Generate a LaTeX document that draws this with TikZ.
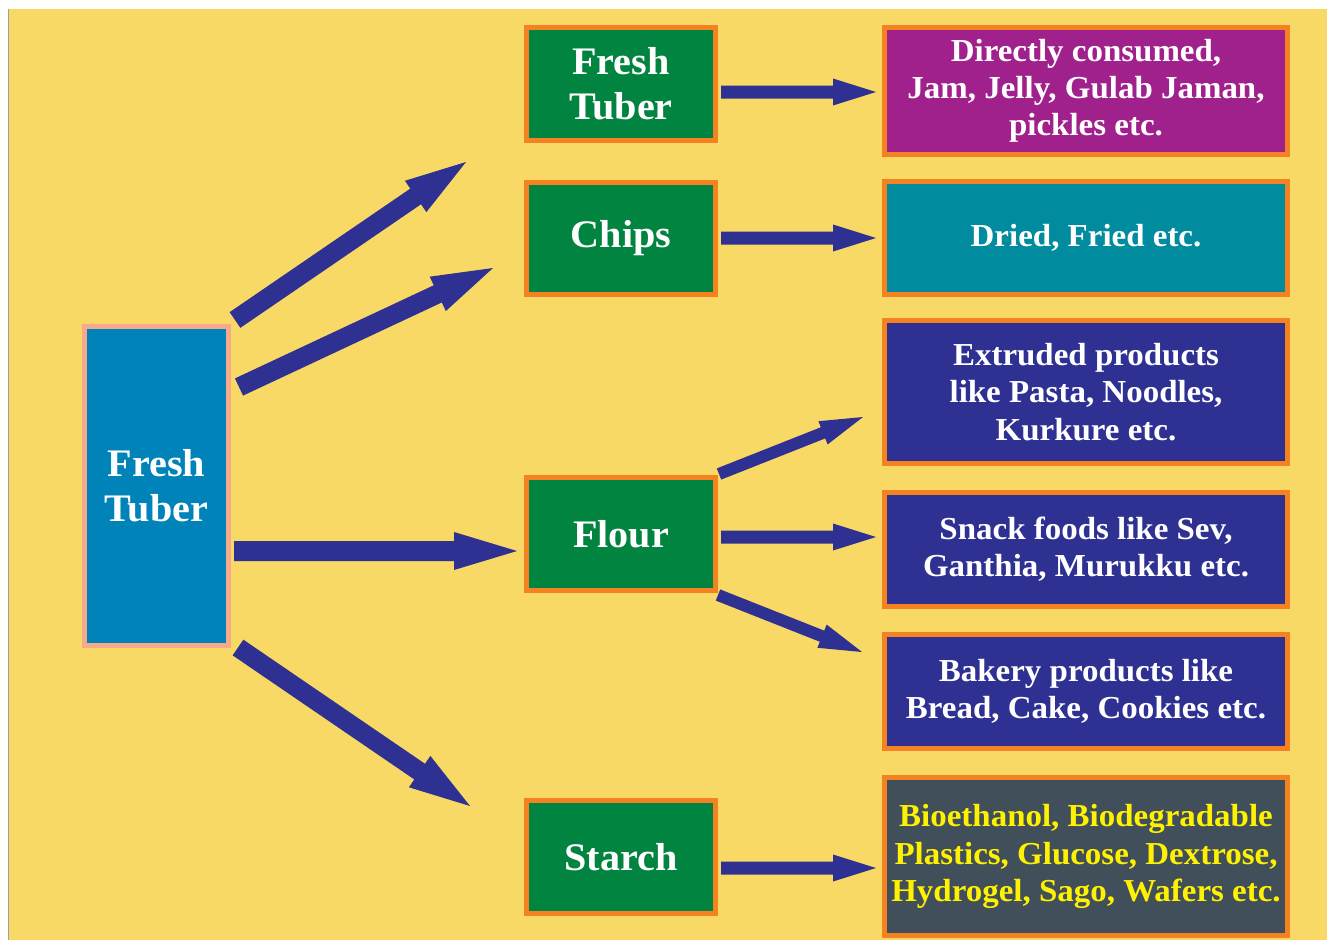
\documentclass[tikz,border=0pt]{standalone}
\usepackage{fontspec}
\setmainfont{Liberation Serif}[FakeStretch=1.03]
\usetikzlibrary{calc}
\definecolor{bgyellow}{HTML}{F9D966}
\definecolor{tuberblue}{HTML}{0083B8}
\definecolor{salmon}{HTML}{F7A98B}
\definecolor{boxgreen}{HTML}{00843F}
\definecolor{boxorange}{HTML}{F58220}
\definecolor{boxpurple}{HTML}{A0218C}
\definecolor{boxteal}{HTML}{008B9E}
\definecolor{boxnavy}{HTML}{2E3192}
\definecolor{boxslate}{HTML}{414F5B}
\definecolor{arrowcol}{HTML}{2E3192}
\definecolor{txtyellow}{HTML}{FFF200}
\definecolor{edgegray}{HTML}{A0A0A0}
\newcommand\blockarr[5]{%
  \coordinate (tmpB) at ($(#2)!#4!(#1)$);
  \fill[arrowcol] ($(#1)!#3!90:(#2)$) -- ($(tmpB)!#3!90:(#2)$) -- ($(tmpB)!#5!90:(#2)$) -- (#2)
     -- ($(tmpB)!#5!-90:(#2)$) -- ($(tmpB)!#3!-90:(#2)$) -- ($(#1)!#3!-90:(#2)$) -- cycle;
}
\tikzset{
  box/.style={draw=boxorange, line width=5pt, inner sep=0pt, align=center, text=white,
    font=\bfseries\fontsize{39}{45}\selectfont},
  greenbox/.style={box, fill=boxgreen, minimum width=189pt, minimum height=113pt},
  outbox/.style={box, minimum width=403pt, font=\bfseries\fontsize{32}{37.3}\selectfont},
}
\begin{document}
\begin{tikzpicture}[x=1pt,y=-1pt]
\useasboundingbox (0,0) rectangle (1327,940);
\fill[white] (0,0) rectangle (1327,940);
\fill[bgyellow] (9,9) rectangle (1327,940);
\draw[edgegray, line width=1pt] (8.5,9) -- (8.5,940);

\node[box, draw=salmon, fill=tuberblue, minimum width=144pt, minimum height=319pt] (tuber) at (156.5,486) {Fresh\\Tuber};

\node[greenbox] (fresh) at (621,84) {Fresh\\Tuber};
\node[greenbox, minimum height=112pt] (chips) at (621,238.5) {Chips};
\node[greenbox] (flour) at (621,534) {Flour};
\node[greenbox] (starch) at (621,857) {Starch};

\node[outbox, fill=boxpurple, minimum height=127pt] (direct) at (1086,91) {Directly consumed,\\Jam, Jelly, Gulab Jaman,\\pickles etc.};
\node[outbox, fill=boxteal, minimum height=113pt] (dried) at (1086,238) {Dried, Fried etc.};
\node[outbox, fill=boxnavy, minimum height=143pt] (extruded) at (1086,392) {Extruded products\\like Pasta, Noodles,\\Kurkure etc.};
\node[outbox, fill=boxnavy, minimum height=114pt] (snack) at (1086,549.5) {Snack foods like Sev,\\Ganthia, Murukku etc.};
\node[outbox, fill=boxnavy, minimum height=114pt] (bakery) at (1086,691.5) {Bakery products like\\Bread, Cake, Cookies etc.};
\node[outbox, fill=boxslate, minimum height=158pt, text=txtyellow] (bio) at (1086,856.5) {Bioethanol, Biodegradable\\Plastics, Glucose, Dextrose,\\Hydrogel, Sago, Wafers etc.};

% arrow end points
\coordinate (a1s) at (235,320);   \coordinate (a1e) at (466,162);
\coordinate (a2s) at (239,387);   \coordinate (a2e) at (493,268);
\coordinate (a3s) at (234,551);   \coordinate (a3e) at (517,551);
\coordinate (a4s) at (238,647.5); \coordinate (a4e) at (470,806);
\coordinate (b1s) at (721,92);    \coordinate (b1e) at (876,92);
\coordinate (b2s) at (721,238);   \coordinate (b2e) at (876,238);
\coordinate (b3s) at (721,537);   \coordinate (b3e) at (876,537);
\coordinate (b4s) at (721,868);   \coordinate (b4e) at (876,868);
\coordinate (c1s) at (719,474);   \coordinate (c1e) at (863,417);
\coordinate (c2s) at (718,595);   \coordinate (c2e) at (862,652);

\blockarr{a1s}{a1e}{9.5pt}{61pt}{19pt}
\blockarr{a2s}{a2e}{9.5pt}{61pt}{19pt}
\blockarr{a3s}{a3e}{10pt}{63pt}{19pt}
\blockarr{a4s}{a4e}{9.5pt}{61pt}{19pt}
\blockarr{b1s}{b1e}{6.5pt}{43pt}{13.5pt}
\blockarr{b2s}{b2e}{6.5pt}{43pt}{13.5pt}
\blockarr{b3s}{b3e}{6.5pt}{43pt}{13.5pt}
\blockarr{b4s}{b4e}{6.5pt}{43pt}{13.5pt}
\blockarr{c1s}{c1e}{6pt}{43pt}{12.5pt}
\blockarr{c2s}{c2e}{6pt}{43pt}{12.5pt}
\end{tikzpicture}
\end{document}
